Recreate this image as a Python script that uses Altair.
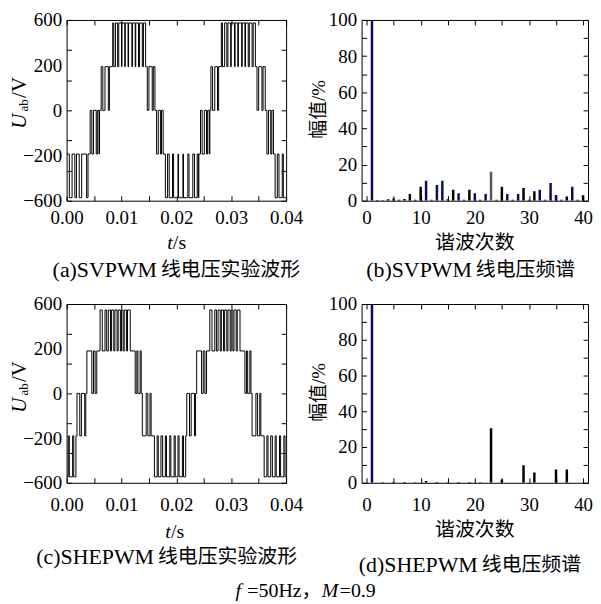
import altair as alt
import pandas as pd

SERIF = "Liberation Serif"
MIX = "Liberation Serif, Noto Sans CJK SC"

# ---------------- data ----------------
# (a) SVPWM line voltage: switching instants (ms) and the level held afterwards (V)
ta_ms = [0.0, 0.5, 1.0, 1.5, 1.8, 2.3, 2.75, 3.65, 3.9,
         4.3, 4.6, 4.9, 5.4, 5.6, 5.9, 6.0,
         6.3, 6.6, 7.0, 7.6, 7.8,
         8.4, 8.6, 8.9, 9.3, 9.5, 10.0, 10.1, 10.6, 10.7, 11.2, 11.3, 11.9, 12.0, 12.5, 12.6, 13.1, 13.3, 13.8, 14.0, 14.4,
         14.7, 15.0, 15.6, 15.8, 16.1,
         16.4, 16.7, 17.1, 17.3, 17.6,
         18.0, 18.4, 18.7, 19.3, 19.5, 20.3, 20.4, 21.2, 21.3, 22.1, 22.3, 23.0, 23.3, 23.8, 24.0, 24.1,
         24.4, 24.7, 25.1, 25.5, 25.7, 26.0, 26.1,
         26.3, 26.6, 27.0, 27.5, 27.7,
         28.2, 28.4, 28.8, 29.2, 29.4, 29.9, 30.0, 30.6, 30.7, 31.2, 31.3, 31.9, 32.0, 32.5, 32.6, 33.1, 33.3, 33.8, 34.0, 34.4,
         34.7, 35.0, 35.6, 35.8, 36.2,
         36.5, 36.8, 37.2, 37.4, 37.7,
         38.0, 38.4, 38.7, 39.3, 39.5, 40.0]
ua = [-290, -580, -290, -580, -290, -580, -290, -580, -290,
      0, -290, 0, -290, 0, -290, 0,
      290, 0, 290, 0, 290,
      580, 290, 580, 290, 580, 290, 580, 290, 580, 290, 580, 290, 580, 290, 580, 290, 580, 290, 580, 290,
      0, 290, 0, 290, 0,
      -290, 0, -290, 0, -290,
      -580, -290, -580, -290, -580, -290, -580, -290, -580, -290, -580, -290, -580, -290, -580, -290,
      0, -290, 0, -290, 0, -290, 0,
      290, 0, 290, 0, 290,
      580, 290, 580, 290, 580, 290, 580, 290, 580, 290, 580, 290, 580, 290, 580, 290, 580, 290, 580, 290,
      0, 290, 0, 290, 0,
      -290, 0, -290, 0, -290,
      -580, -290, -580, -290, -580, -580]

# (c) SHEPWM line voltage: switching instants (ms) and levels (V)
tc_ms = [0.0, 0.3, 0.5, 1.1, 1.3, 1.7,
         1.9, 2.4, 2.7, 3.3, 3.5,
         3.7, 4.6, 4.9, 5.2, 5.5,
         6.1, 6.5, 7.0, 7.3, 7.6, 8.0, 8.2, 8.6, 8.8, 9.2, 9.4, 9.8, 10.0, 10.3, 10.5, 10.9, 11.1, 11.6,
         12.5, 12.8, 13.0, 13.4, 13.6,
         13.8, 14.5, 14.8, 15.2, 15.4,
         16.0, 16.5, 16.7, 17.2, 17.5, 18.0, 18.2, 18.8, 19.0, 19.6, 19.8, 20.3, 20.5, 21.1, 21.3, 21.7,
         21.9, 22.4, 22.7, 23.3, 23.5,
         23.7, 24.6, 24.9, 25.2, 25.5,
         26.1, 26.5, 27.0, 27.3, 27.6, 28.0, 28.2, 28.6, 28.8, 29.2, 29.4, 29.8, 30.0, 30.3, 30.5, 30.9, 31.1, 31.6,
         32.5, 32.8, 33.0, 33.4, 33.6,
         33.8, 34.5, 34.8, 35.2, 35.4,
         36.0, 36.5, 36.7, 37.2, 37.5, 38.0, 38.2, 38.8, 39.0, 39.6, 39.8, 40.0]
uc = [-560, -285, -560, -285, -560, -285,
      0, -285, 0, -285, 0,
      285, 0, 285, 0, 285,
      560, 285, 560, 285, 560, 285, 560, 285, 560, 285, 560, 285, 560, 285, 560, 285, 560, 285,
      0, 285, 0, 285, 0,
      -285, 0, -285, 0, -285,
      -560, -285, -560, -285, -560, -285, -560, -285, -560, -285, -560, -285, -560, -285, -560, -285,
      0, -285, 0, -285, 0,
      285, 0, 285, 0, 285,
      560, 285, 560, 285, 560, 285, 560, 285, 560, 285, 560, 285, 560, 285, 560, 285, 560, 285,
      0, 285, 0, 285, 0,
      -285, 0, -285, 0, -285,
      -560, -285, -560, -285, -560, -285, -560, -285, -560, -285, -560, -560]

# (b) SVPWM spectrum: harmonic order, amplitude (%), colour class
hb = [1, 2, 3, 4, 5, 6, 7, 8, 9, 10, 11, 12, 13, 14, 15, 16, 17, 18, 19, 20,
      21, 22, 23, 24, 25, 26, 27, 28, 29, 30, 31, 32, 33, 34, 35, 36, 37, 38, 39, 40]
ab = [100, 0.4, 0.3, 0.8, 1.2, 0.5, 1.0, 3.7, 0.5, 7.7, 11, 0.6, 8.7, 11, 0.8, 6, 4.2, 0.6, 6, 4.2,
      0.5, 3.7, 16, 0.5, 7.7, 3.7, 0.5, 3.7, 7, 0.5, 5.2, 6, 0.5, 9.8, 3.1, 0.5, 2.4, 7.7, 0.5, 3]
cb = ["n", "k", "k", "k", "k", "k", "k", "k", "k", "k", "n", "k", "n", "n", "k", "k", "n", "k", "k", "n",
      "k", "n", "g", "k", "k", "n", "k", "n", "k", "k", "k", "n", "k", "n", "n", "k", "k", "n", "k", "k"]

# (d) SHEPWM spectrum
hd = [1, 3, 5, 7, 9, 11, 13, 15, 17, 19, 21, 23, 25, 29, 31, 35, 37]
ad = [100, 0.3, 0.5, 0.5, 0.3, 1.0, 0.5, 0.3, 0.5, 0.5, 0.3, 30.5, 1.8, 9.8, 5.7, 7.4, 7.4]
cd = ["n", "k", "k", "k", "k", "k", "k", "k", "k", "k", "k", "k", "k", "k", "k", "k", "k"]

bar_classes = ["n", "k", "g"]
bar_colors = ["#0b0b6e", "#000000", "#5a5a5a"]

# axes
wave_x_labels = [0.0, 0.01, 0.02, 0.03, 0.04]
wave_x_ticks = [0.0, 0.005, 0.01, 0.015, 0.02, 0.025, 0.03, 0.035, 0.04]
wave_y_label_vals = [-600, -300, 0, 300, 600]
wave_y_label_txt = ["\u2212600", "\u2212200", "0", "200", "600"]
wave_y_ticks = [-600, -400, -200, 0, 200, 400, 600]
spec_x_labels = [0, 10, 20, 30, 40]
spec_x_ticks = [0, 5, 10, 15, 20, 25, 30, 35, 40]
spec_y_labels = [0, 20, 40, 60, 80, 100]
spec_y_ticks = [0, 10, 20, 30, 40, 50, 60, 70, 80, 90, 100]

assert len(ta_ms) == len(ua) and len(tc_ms) == len(uc)
assert len(hb) == len(ab) == len(cb) and len(hd) == len(ad) == len(cd)

dfa = pd.DataFrame({"t": [v / 1000 for v in ta_ms], "u": ua})
dfc = pd.DataFrame({"t": [v / 1000 for v in tc_ms], "u": uc})
dfb = pd.DataFrame({"h": hb, "a": ab, "c": cb})
dfd = pd.DataFrame({"h": hd, "a": ad, "c": cd})
one = pd.DataFrame({"k": [0]})


def lab_expr(vals, txts):
    parts = [f"datum.value == {v} ? '{s}'" for v, s in zip(vals, txts)]
    return " : ".join(parts) + " : ''"


def frame_layers(df, xf, yf, xdom, ydom, x_lab, x_fmt, x_ticks, y_lab, y_expr, y_ticks, main, xpad):
    xs = alt.Scale(domain=xdom, nice=False, zero=False)
    ys = alt.Scale(domain=ydom, nice=False, zero=False)
    main_l = main.encode(
        x=alt.X(f"{xf}:Q", scale=xs,
                axis=alt.Axis(orient="bottom", values=x_lab, format=x_fmt, ticks=False, domain=False,
                              labelPadding=xpad, labelFlush=False, labelOverlap=False, title=None,
                              labelFont=SERIF, labelFontSize=19, labelColor="black")),
        y=alt.Y(f"{yf}:Q", scale=ys,
                axis=alt.Axis(orient="left", values=y_lab, labelExpr=y_expr, ticks=False, domain=False,
                              labelPadding=5, labelFlush=False, labelOverlap=False, title=None,
                              labelFont=SERIF, labelFontSize=19, labelColor="black")),
    )

    def ticks_layer(xo, yo):
        return alt.Chart(df).mark_point(opacity=0).encode(
            x=alt.X(f"{xf}:Q", scale=xs,
                    axis=alt.Axis(orient=xo, values=x_ticks, labels=False, domain=False, ticks=True,
                                  tickSize=5, offset=-5, title=None, tickColor="black")),
            y=alt.Y(f"{yf}:Q", scale=ys,
                    axis=alt.Axis(orient=yo, values=y_ticks, labels=False, domain=False, ticks=True,
                                  tickSize=5, offset=-5, title=None, tickColor="black")),
        )

    return [main_l, ticks_layer("bottom", "left"), ticks_layer("top", "right")]


def txt(s, x, y, size, font=SERIF, style="normal", angle=0, align="center", baseline="middle"):
    return alt.Chart(one).mark_text(text=s, font=font, fontSize=size, fontStyle=style, angle=angle,
                                    align=align, baseline=baseline, color="black").encode(
        x=alt.value(x), y=alt.value(y))


def wave_panel(df, W, H, xpad, tit_y, cap_lat, cap_cjk, cap_y, lat_right, cjk_right, tsplit, extra):
    line = alt.Chart(df).mark_line(interpolate="step-after", color="black", strokeWidth=1, clip=True)
    layers = frame_layers(df, "t", "u", [0, 0.04], [-600, 600], wave_x_labels, ".2f", wave_x_ticks,
                          wave_y_label_vals, lab_expr(wave_y_label_vals, wave_y_label_txt), wave_y_ticks,
                          line, xpad)
    layers += [
        txt("U", -47, 102, 21, style="italic", angle=270),
        txt("ab", -43, 86, 13, angle=270),
        txt("/V", -47, 68, 21, angle=270),
        txt("t", tsplit, tit_y, 20, style="italic", align="right"),
        txt("/s", tsplit, tit_y, 20, align="left"),
        txt(cap_lat, lat_right, cap_y, 22, align="right"),
        txt(cap_cjk, cjk_right, cap_y, 20, font=MIX, align="right"),
    ] + extra
    return alt.layer(*layers).properties(width=W, height=H).resolve_axis(x="independent", y="independent")


def spec_panel(df, W, H, xpad, ytit_y, xtit_y, cap_lat, cap_cjk, cap_y, lat_right, cjk_right):
    bars = alt.Chart(df).mark_bar(size=2.5, clip=True)
    layers = frame_layers(df, "h", "a", [0, 40], [0, 100], spec_x_labels, "d", spec_x_ticks,
                          spec_y_labels, "datum.label", spec_y_ticks, bars, xpad)
    layers[0] = layers[0].encode(
        color=alt.Color("c:N", scale=alt.Scale(domain=bar_classes, range=bar_colors), legend=None))
    layers += [
        txt("幅值/%", -43, ytit_y, 19, font=MIX, angle=270),
        txt("谐波次数", W / 2, xtit_y, 20, font=MIX),
        txt(cap_lat, lat_right, cap_y, 22, align="right"),
        txt(cap_cjk, cjk_right, cap_y, 20, font=MIX, align="right"),
    ]
    return alt.layer(*layers).properties(width=W, height=H).resolve_axis(x="independent", y="independent")


bottom_note = [
    txt("f", 170, 289, 20, style="italic", align="left"),
    txt("=50Hz\uff0c", 182, 289, 20, font=MIX, align="left"),
    txt("M", 257, 289, 20, style="italic", align="left"),
    txt("=0.9", 275, 289, 20, align="left"),
]

pa = wave_panel(dfa, 221, 182, 8, 225, "(a)SVPWM", "线电压实验波形", 252, 91, 235, 107, [])
pc = wave_panel(dfc, 221, 180, 13, 230, "(c)SHEPWM", "线电压实验波形", 255, 88, 232, 105, bottom_note)
pb = spec_panel(dfb, 228, 182, 8, 90, 225, "(b)SVPWM", "线电压频谱", 252, 111, 215)
pdd = spec_panel(dfd, 228, 180, 13, 89, 228, "(d)SHEPWM", "线电压频谱", 263, 117, 221)

chart = alt.concat(
    pa, pb, pc, pdd, columns=2, bounds="flush",
    spacing=alt.RowColnumber(row=104, column=76),
).properties(
    padding=0, background="white"
).configure_view(
    stroke="black", strokeWidth=1
).configure_axis(grid=False)

chart.save("out.html", embed_options={"renderer": "svg", "actions": False})
